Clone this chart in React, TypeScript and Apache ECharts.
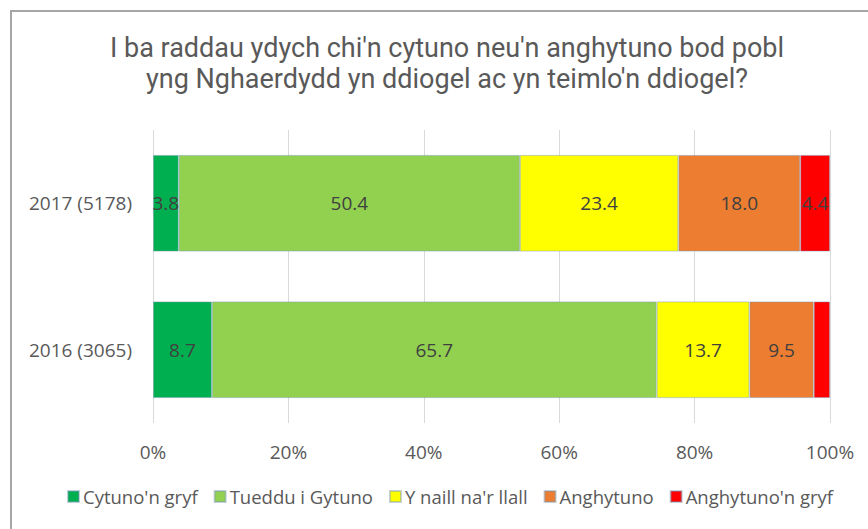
import React, { useEffect, useRef } from "react";
import * as echarts from "echarts";

const categories = ["2016 (3065)", "2017 (5178)"];
const seriesNames = ["Cytuno'n gryf", "Tueddu i Gytuno", "Y naill na'r llall", "Anghytuno", "Anghytuno'n gryf"];
const cytunoGryf = [8.7, 3.8];
const tuedduGytuno = [65.7, 50.4];
const naillNaLlall = [13.7, 23.4];
const anghytuno = [9.5, 18.0];
const anghytunoGryf = [2.4, 4.4];
const xTicks = [0, 20, 40, 60, 80, 100];
const colors = ["#00b050", "#92d050", "#ffff00", "#ed7d31", "#ff0000"];
const titleLines = [
  "I ba raddau ydych chi'n cytuno neu'n anghytuno bod pobl",
  "yng Nghaerdydd yn ddiogel ac yn teimlo'n ddiogel?",
];

const FONT = "'Open Sans', 'Noto Sans', sans-serif";
const TITLE_FONT = "Roboto, 'Open Sans', sans-serif";

export default function App() {
  const ref = useRef<HTMLDivElement>(null);
  useEffect(() => {
    document.body.style.margin = "0";
    if (!ref.current) return;
    const chart = echarts.init(ref.current, undefined, { renderer: "svg" });
    const values = [cytunoGryf, tuedduGytuno, naillNaLlall, anghytuno, anghytunoGryf];
    chart.setOption({
      animation: false,
      backgroundColor: "#ffffff",
      title: titleLines.map((t, i) => ({
        text: t,
        left: 447,
        textAlign: "center",
        top: 32.5 + i * 31.8,
        padding: 0,
        textStyle: {
          fontFamily: TITLE_FONT,
          fontSize: 27,
          fontWeight: "normal",
          color: "#595959",
          lineHeight: 30,
        },
      })),
      graphic: [
        {
          type: "rect",
          shape: { x: 11, y: 11, width: 1000, height: 700 },
          style: { fill: "none", stroke: "#a6a6a6", lineWidth: 2 },
          silent: true,
        },
      ],
      legend: {
        data: seriesNames,
        top: 487,
        left: 62,
        padding: [0, 5],
        icon: "rect",
        itemWidth: 11,
        itemHeight: 11,
        itemGap: 16,
        textStyle: { fontFamily: FONT, fontSize: 18.5, color: "#595959", padding: [0, 0, 0, -1] },
      },
      grid: { left: 153, right: 38, top: 130, bottom: 106, containLabel: false },
      xAxis: {
        type: "value",
        min: 0,
        max: 100,
        interval: 20,
        axisLine: { show: false },
        axisTick: { show: false },
        splitLine: { lineStyle: { color: "#d9d9d9", width: 1 } },
        axisLabel: {
          margin: 19,
          fontFamily: FONT,
          fontSize: 19,
          color: "#595959",
          formatter: (v: number) => (xTicks.includes(v) ? v + "%" : ""),
        },
      },
      yAxis: {
        type: "category",
        data: categories,
        axisLine: { show: false },
        axisTick: { show: false },
        axisLabel: { margin: 21, fontFamily: FONT, fontSize: 19, color: "#595959" },
      },
      series: seriesNames.map((name, i) => ({
        name,
        type: "bar",
        stack: "total",
        barWidth: "66%",
        itemStyle: { color: colors[i], borderColor: "rgba(120,150,180,0.45)", borderWidth: 1 },
        label: {
          show: true,
          position: "inside",
          fontFamily: FONT,
          fontSize: 19,
          color: "#404040",
          formatter: (p: any) => (p.value < 3 ? "" : Number(p.value).toFixed(1)),
        },
        data: values[i],
      })),
    });
    return () => chart.dispose();
  }, []);
  return <div ref={ref} style={{ width: 868, height: 529 }} />;
}
